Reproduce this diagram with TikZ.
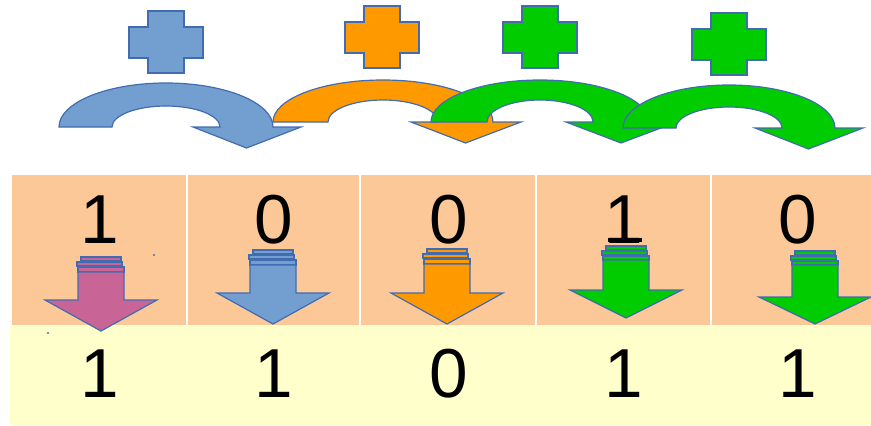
\documentclass[tikz,border=0pt]{standalone}
\usepackage{fontspec}
\setmainfont{Liberation Sans}

\definecolor{edgeblue}{RGB}{66,108,178}
\definecolor{skyfill}{RGB}{114,159,207}
\definecolor{orangefill}{RGB}{255,153,0}
\definecolor{greenfill}{RGB}{0,204,0}
\definecolor{plumfill}{RGB}{201,100,150}
\definecolor{peach}{RGB}{252,200,152}
\definecolor{cream}{RGB}{255,255,204}

\tikzset{
  shapeedge/.style={draw=edgeblue, line width=0.9pt, line join=miter},
  digit/.style={font=\fontsize{52}{52}\selectfont, inner sep=0pt, anchor=base, text=black},
  divider/.style={draw=white, line width=1.5pt},
}

% plus sign: centre x, centre y, fill colour
\newcommand\plussign[3]{%
  \filldraw[shapeedge, fill=#3]
    (#1-18,#2-31) -- (#1+18,#2-31) -- (#1+18,#2-15) -- (#1+37,#2-15) --
    (#1+37,#2+16) -- (#1+18,#2+16) -- (#1+18,#2+31) -- (#1-18,#2+31) --
    (#1-18,#2+16) -- (#1-37,#2+16) -- (#1-37,#2-15) -- (#1-18,#2-15) -- cycle;}

% curved down arrow: cx, cy, outer rx, outer ry, inner rx, inner ry, fill
\newcommand\bentarrow[7]{%
  \filldraw[shapeedge, fill=#7]
    (#1-#3,#2) arc[start angle=180, end angle=360, x radius=#3, y radius=#4]
    -- (#1+#3+28,#2) -- ({#1+(#3+#5)/2},#2+21) -- (#1+#5-27,#2) -- (#1+#5,#2)
    arc[start angle=0, end angle=-180, x radius=#5, y radius=#6] -- cycle;}

% striped down arrow: cx, top, stripe bottom, head base, tip, fill
\newcommand\droparrow[6]{%
  \filldraw[shapeedge, fill=#6] (#1-20,#2) rectangle (#1+20,#2+4);
  \filldraw[shapeedge, fill=#6] (#1-24,#2+5) rectangle (#1+21,#2+9);
  \filldraw[shapeedge, fill=#6] (#1-23,#2+10) rectangle (#1+23,#3);
  \filldraw[shapeedge, fill=#6]
    (#1-23,#3) -- (#1+23,#3) -- (#1+23,#4) -- (#1+56,#4) -- (#1,#5) --
    (#1-56,#4) -- (#1-23,#4) -- cycle;}

\begin{document}
\begin{tikzpicture}[x=0.75pt, y=-0.75pt]
  \useasboundingbox (0,0) rectangle (871,425);

  % table rows
  \fill[peach] (12,175) rectangle (871,325);
  \fill[cream] (10,325) rectangle (871,425);
  \foreach \xd in {187,360,536,711}
    \draw[divider] (\xd,175) -- (\xd,325);

  % plus signs
  \plussign{166}{42}{skyfill}
  \plussign{382}{37}{orangefill}
  \plussign{540}{37}{greenfill}
  \plussign{729}{44}{greenfill}

  % curved arrows carrying the sum along
  \bentarrow{166}{127}{107}{44}{54}{21}{skyfill}
  \bentarrow{383}{122}{110}{42}{55}{22}{orangefill}
  \bentarrow{540}{122}{109}{42}{53}{22}{greenfill}
  \bentarrow{729}{128}{106}{43}{53}{21}{greenfill}

  % input digits
  \node[digit] (t1) at (100,243) {1};
  \node[digit] (t2) at (274,243) {0};
  \node[digit] (t3) at (449,243) {0};
  \node[digit] (t4) at (624,243) {1};
  \node[digit] (t5) at (798,243) {0};
  \fill[black] (608,238) rectangle (642,242);

  % down arrows
  \droparrow{101}{257}{272}{300}{331}{plumfill}
  \droparrow{273}{250}{265}{293}{324}{skyfill}
  \droparrow{447}{249}{264}{293}{324}{orangefill}
  \droparrow{626}{246}{260}{290}{318}{greenfill}
  \droparrow{815}{251}{265}{297}{324}{greenfill}

  % stray specks
  \fill[edgeblue] (154,255) circle[radius=1.2];
  \fill[edgeblue] (48,333) circle[radius=1.2];

  % output digits
  \node[digit] (b1) at (100,397) {1};
  \node[digit] (b2) at (274,397) {1};
  \node[digit] (b3) at (449,397) {0};
  \node[digit] (b4) at (624,397) {1};
  \node[digit] (b5) at (798,397) {1};
\end{tikzpicture}
\end{document}
